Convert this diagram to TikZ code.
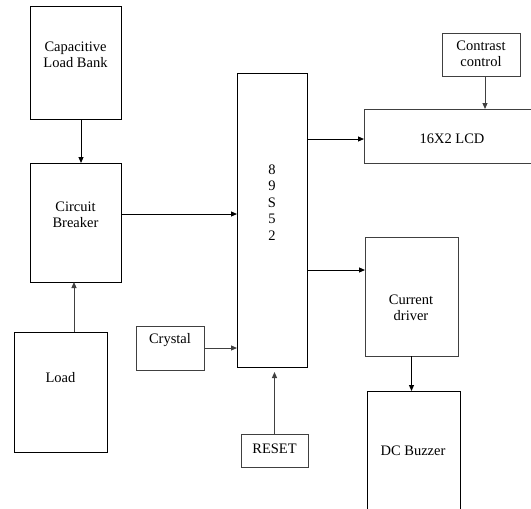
\documentclass[tikz,border=0pt]{standalone}
\usepackage{fontspec}
\setmainfont{Liberation Serif}
\usetikzlibrary{arrows.meta}
\definecolor{edge}{gray}{0.25}
\tikzset{
  box/.style={draw=black, line width=1pt, inner sep=0pt, outer sep=0pt, fill=none},
  gbox/.style={box, draw=edge},
  txt/.style={align=center, inner sep=0pt, font=\fontsize{14.5}{16.5}\selectfont},
  arr/.style={line width=1pt, draw=black, -{Triangle[length=6pt,width=5pt]}},
  garr/.style={arr, draw=edge}
}
\begin{document}
\begin{tikzpicture}[x=1pt,y=-1pt]
\useasboundingbox (0,0) rectangle (531,509);
\clip (0,0) rectangle (531,509);
% boxes (centre, size)
\node[box, minimum width=91pt, minimum height=113pt] (clb) at (75.5,62.5) {};
\node[box, minimum width=91pt, minimum height=119pt] (cb) at (75.5,222.5) {};
\node[box, minimum width=93pt, minimum height=120pt] (load) at (60.5,392) {};
\node[gbox, minimum width=68pt, minimum height=44pt] (crys) at (170,348) {};
\node[box, minimum width=70pt, minimum height=294pt] (chip) at (272,220) {};
\node[gbox, minimum width=67pt, minimum height=33pt] (reset) at (274.5,450.5) {};
\node[gbox, minimum width=78pt, minimum height=43pt] (contrast) at (481,54.5) {};
\node[gbox, minimum width=196pt, minimum height=54pt] (lcd) at (462,136) {};
\node[gbox, minimum width=93pt, minimum height=119pt] (cd) at (411.5,296.5) {};
\node[box, minimum width=93pt, minimum height=149pt] (buzz) at (413.5,465.5) {};
% texts
\node[txt] (tclb) at (75.5,55) {Capacitive\\Load Bank};
\node[txt] (tcb) at (75.5,215) {Circuit\\Breaker};
\node[txt] (tload) at (60.5,378) {Load};
\node[txt] (tcrys) at (170,340) {Crystal};
\node[txt] (tchip) at (272,202.5) {8\\9\\S\\5\\2};
\node[txt] (treset) at (274.5,449) {RESET};
\node[txt] (tcontrast) at (481,54) {Contrast\\control};
\node[txt] (tlcd) at (452,139) {16X2 LCD};
\node[txt] (tcd) at (411,308) {Current\\driver};
\node[txt] (tbuzz) at (413,451) {DC Buzzer};
% connectors
\draw[arr] ([xshift=5.5pt]clb.south) -- ([xshift=5.5pt]cb.north);
\draw[garr] ([xshift=13.5pt]load.north) -- ([xshift=13.5pt]load.north |- cb.south);
\draw[arr] (cb.east |- 0,214) -- (chip.west |- 0,214);
\draw[garr] (crys.east |- 0,348) -- (chip.west |- 0,348);
\draw[garr, shorten >=5pt] (reset.north) -- (reset.north |- chip.south);
\draw[arr] (chip.east |- 0,139) -- (lcd.west |- 0,139);
\draw[garr] ([xshift=4pt]contrast.south) -- ([xshift=4pt]contrast.south |- lcd.north);
\draw[arr] (chip.east |- 0,270) -- (cd.west |- 0,270);
\draw[arr] (cd.south) -- (cd.south |- buzz.north);
\end{tikzpicture}
\end{document}
